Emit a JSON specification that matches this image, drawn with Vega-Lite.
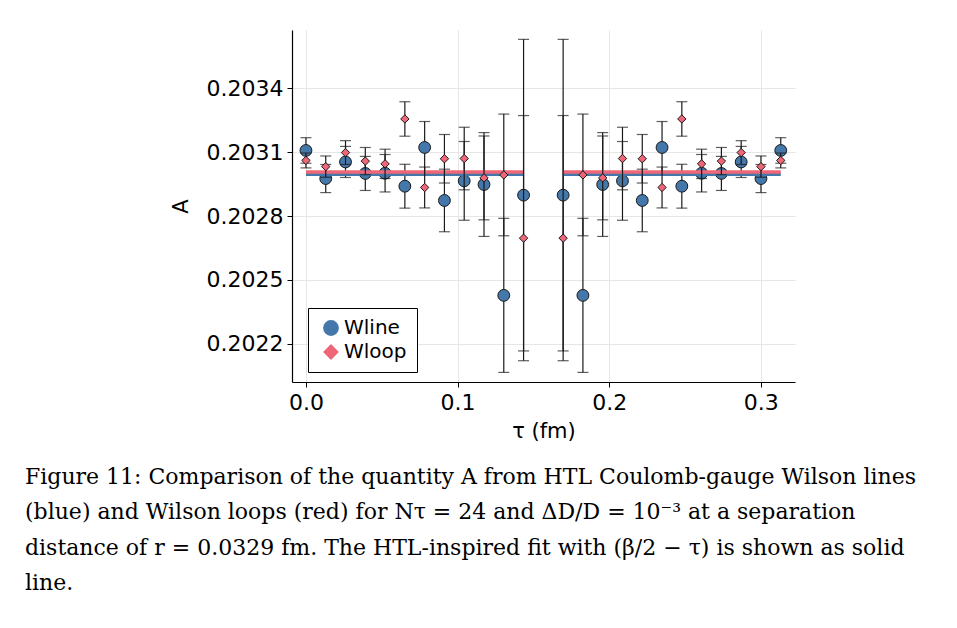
{
  "$schema": "https://vega.github.io/schema/vega-lite/v6.json",
  "autosize": {"type": "none"},
  "padding": {"left": 292, "top": 30, "right": 162, "bottom": 246},
  "width": 503,
  "height": 352,
  "background": "white",
  "config": {
    "view": {"stroke": null},
    "font": "DejaVu Sans",
    "axis": {
      "domainColor": "black", "domainWidth": 1.2,
      "gridColor": "#e6e6e6", "gridWidth": 1,
      "tickColor": "black", "tickSize": 5,
      "labelFont": "DejaVu Sans", "labelFontSize": 22, "labelColor": "black",
      "titleFont": "DejaVu Sans", "titleFontSize": 21, "titleFontWeight": "normal", "titleColor": "black"
    },
    "legend": {
      "orient": "none", "legendX": 16, "legendY": 278,
      "strokeColor": "black", "fillColor": "white", "padding": 10, "cornerRadius": 0,
      "labelFont": "DejaVu Sans", "labelFontSize": 20, "labelColor": "black",
      "symbolSize": 250, "symbolStrokeColor": "#222", "symbolStrokeWidth": 1, "rowPadding": 4, "symbolOpacity": 1,
      "symbolOffset": 3, "labelOffset": 3
    }
  },
  "title": {
    "text": [
      "Figure 11: Comparison of the quantity A from HTL Coulomb-gauge Wilson lines",
      "(blue) and Wilson loops (red) for Nτ = 24 and ΔD/D = 10⁻³ at a separation",
      "distance of r = 0.0329 fm. The HTL-inspired fit with (β/2 − τ) is shown as solid",
      "line."
    ],
    "orient": "bottom", "anchor": "start", "frame": "group",
    "dx": -267, "offset": 26,
    "font": "DejaVu Serif", "fontSize": 22, "fontWeight": "normal",
    "lineHeight": 35.3, "color": "black", "baseline": "top"
  },
  "datasets": {
    "pts": [
      {"tau": 0, "series": "Wline", "A": 0.203108, "lo": 0.203048, "hi": 0.203168},
      {"tau": 0.01305, "series": "Wline", "A": 0.202976, "lo": 0.20291, "hi": 0.203042},
      {"tau": 0.0261, "series": "Wline", "A": 0.203054, "lo": 0.202981, "hi": 0.203127},
      {"tau": 0.03915, "series": "Wline", "A": 0.203, "lo": 0.20292, "hi": 0.20308},
      {"tau": 0.0522, "series": "Wline", "A": 0.203001, "lo": 0.202913, "hi": 0.203089},
      {"tau": 0.06525, "series": "Wline", "A": 0.20294, "lo": 0.202837, "hi": 0.203043},
      {"tau": 0.0783, "series": "Wline", "A": 0.203122, "lo": 0.203, "hi": 0.203244},
      {"tau": 0.09135, "series": "Wline", "A": 0.202873, "lo": 0.202726, "hi": 0.20302},
      {"tau": 0.1044, "series": "Wline", "A": 0.202965, "lo": 0.20278, "hi": 0.20315},
      {"tau": 0.11745, "series": "Wline", "A": 0.202948, "lo": 0.202704, "hi": 0.203192},
      {"tau": 0.1305, "series": "Wline", "A": 0.202427, "lo": 0.202065, "hi": 0.202789},
      {"tau": 0.14355, "series": "Wline", "A": 0.202898, "lo": 0.202166, "hi": 0.20363},
      {"tau": 0.16965, "series": "Wline", "A": 0.202898, "lo": 0.202166, "hi": 0.20363},
      {"tau": 0.1827, "series": "Wline", "A": 0.202427, "lo": 0.202065, "hi": 0.202789},
      {"tau": 0.19575, "series": "Wline", "A": 0.202948, "lo": 0.202704, "hi": 0.203192},
      {"tau": 0.2088, "series": "Wline", "A": 0.202965, "lo": 0.20278, "hi": 0.20315},
      {"tau": 0.22185, "series": "Wline", "A": 0.202873, "lo": 0.202726, "hi": 0.20302},
      {"tau": 0.2349, "series": "Wline", "A": 0.203122, "lo": 0.203, "hi": 0.203244},
      {"tau": 0.24795, "series": "Wline", "A": 0.20294, "lo": 0.202837, "hi": 0.203043},
      {"tau": 0.261, "series": "Wline", "A": 0.203001, "lo": 0.202913, "hi": 0.203089},
      {"tau": 0.27405, "series": "Wline", "A": 0.203, "lo": 0.20292, "hi": 0.20308},
      {"tau": 0.2871, "series": "Wline", "A": 0.203054, "lo": 0.202981, "hi": 0.203127},
      {"tau": 0.30015, "series": "Wline", "A": 0.202976, "lo": 0.20291, "hi": 0.203042},
      {"tau": 0.3132, "series": "Wline", "A": 0.203108, "lo": 0.203048, "hi": 0.203168},
      {"tau": 0, "series": "Wloop", "A": 0.203061, "lo": 0.203026, "hi": 0.203096},
      {"tau": 0.01305, "series": "Wloop", "A": 0.203032, "lo": 0.202982, "hi": 0.203082},
      {"tau": 0.0261, "series": "Wloop", "A": 0.203098, "lo": 0.203042, "hi": 0.203154},
      {"tau": 0.03915, "series": "Wloop", "A": 0.203058, "lo": 0.202994, "hi": 0.203122},
      {"tau": 0.0522, "series": "Wloop", "A": 0.203045, "lo": 0.202976, "hi": 0.203114},
      {"tau": 0.06525, "series": "Wloop", "A": 0.203256, "lo": 0.203175, "hi": 0.203337},
      {"tau": 0.0783, "series": "Wloop", "A": 0.202934, "lo": 0.202838, "hi": 0.20303},
      {"tau": 0.09135, "series": "Wloop", "A": 0.203069, "lo": 0.202955, "hi": 0.203183},
      {"tau": 0.1044, "series": "Wloop", "A": 0.20307, "lo": 0.202923, "hi": 0.203217},
      {"tau": 0.11745, "series": "Wloop", "A": 0.202979, "lo": 0.202782, "hi": 0.203176},
      {"tau": 0.1305, "series": "Wloop", "A": 0.202993, "lo": 0.202707, "hi": 0.203279},
      {"tau": 0.14355, "series": "Wloop", "A": 0.202696, "lo": 0.20212, "hi": 0.203272},
      {"tau": 0.16965, "series": "Wloop", "A": 0.202696, "lo": 0.20212, "hi": 0.203272},
      {"tau": 0.1827, "series": "Wloop", "A": 0.202993, "lo": 0.202707, "hi": 0.203279},
      {"tau": 0.19575, "series": "Wloop", "A": 0.202979, "lo": 0.202782, "hi": 0.203176},
      {"tau": 0.2088, "series": "Wloop", "A": 0.20307, "lo": 0.202923, "hi": 0.203217},
      {"tau": 0.22185, "series": "Wloop", "A": 0.203069, "lo": 0.202955, "hi": 0.203183},
      {"tau": 0.2349, "series": "Wloop", "A": 0.202934, "lo": 0.202838, "hi": 0.20303},
      {"tau": 0.24795, "series": "Wloop", "A": 0.203256, "lo": 0.203175, "hi": 0.203337},
      {"tau": 0.261, "series": "Wloop", "A": 0.203045, "lo": 0.202976, "hi": 0.203114},
      {"tau": 0.27405, "series": "Wloop", "A": 0.203058, "lo": 0.202994, "hi": 0.203122},
      {"tau": 0.2871, "series": "Wloop", "A": 0.203098, "lo": 0.203042, "hi": 0.203154},
      {"tau": 0.30015, "series": "Wloop", "A": 0.203032, "lo": 0.202982, "hi": 0.203082},
      {"tau": 0.3132, "series": "Wloop", "A": 0.203061, "lo": 0.203026, "hi": 0.203096}
    ],
    "fit": [
      {"fit": "Wline", "seg": "L", "tau": 0, "A": 0.202996},
      {"fit": "Wline", "seg": "L", "tau": 0.14355, "A": 0.202996},
      {"fit": "Wline", "seg": "R", "tau": 0.16965, "A": 0.202996},
      {"fit": "Wline", "seg": "R", "tau": 0.3132, "A": 0.202996},
      {"fit": "Wloop", "seg": "L", "tau": 0, "A": 0.203007},
      {"fit": "Wloop", "seg": "L", "tau": 0.14355, "A": 0.203007},
      {"fit": "Wloop", "seg": "R", "tau": 0.16965, "A": 0.203007},
      {"fit": "Wloop", "seg": "R", "tau": 0.3132, "A": 0.203007}
    ]
  },
  "encoding": {
    "x": {
      "field": "tau", "type": "quantitative",
      "scale": {"domain": [-0.0092, 0.3226], "nice": false, "zero": false},
      "axis": {"title": "τ (fm)", "values": [0, 0.1, 0.2, 0.3], "format": ".1f", "titlePadding": 7, "labelPadding": 5}
    },
    "y": {
      "field": "A", "type": "quantitative",
      "scale": {"domain": [0.20202, 0.203674], "nice": false, "zero": false},
      "axis": {"title": "A", "values": [0.2022, 0.2025, 0.2028, 0.2031, 0.2034], "format": ".4f", "titlePadding": 15, "labelPadding": 4}
    }
  },
  "layer": [
    {
      "data": {"name": "pts"},
      "transform": [{"filter": "datum.series == 'Wline'"}],
      "mark": {"type": "rule", "color": "#1a1a1a", "strokeWidth": 1.2},
      "encoding": {"y": {"field": "lo", "type": "quantitative"}, "y2": {"field": "hi"}}
    },
    {
      "data": {"name": "pts"},
      "transform": [{"filter": "datum.series == 'Wline'"}],
      "mark": {"type": "tick", "orient": "horizontal", "size": 11, "thickness": 1.2, "color": "#1a1a1a"},
      "encoding": {"y": {"field": "lo", "type": "quantitative"}}
    },
    {
      "data": {"name": "pts"},
      "transform": [{"filter": "datum.series == 'Wline'"}],
      "mark": {"type": "tick", "orient": "horizontal", "size": 11, "thickness": 1.2, "color": "#1a1a1a"},
      "encoding": {"y": {"field": "hi", "type": "quantitative"}}
    },
    {
      "data": {"name": "pts"},
      "transform": [{"filter": "datum.series == 'Wline'"}],
      "mark": {"type": "point", "filled": true, "size": 140, "opacity": 1, "stroke": "#1a1a1a", "strokeWidth": 1},
      "encoding": {
        "color": {"field": "series", "type": "nominal", "scale": {"domain": ["Wline", "Wloop"], "range": ["#4477AA", "#EE6677"]}, "title": null},
        "shape": {"field": "series", "type": "nominal", "scale": {"domain": ["Wline", "Wloop"], "range": ["circle", "diamond"]}, "title": null}
      }
    },
    {
      "data": {"name": "fit"},
      "transform": [{"filter": "datum.fit == 'Wline'"}],
      "mark": {"type": "line", "color": "#4477AA", "strokeWidth": 3.5},
      "encoding": {"detail": {"field": "seg"}}
    },
    {
      "data": {"name": "fit"},
      "transform": [{"filter": "datum.fit == 'Wloop'"}],
      "mark": {"type": "line", "color": "#EE6677", "strokeWidth": 3.5},
      "encoding": {"detail": {"field": "seg"}}
    },
    {
      "data": {"name": "pts"},
      "transform": [{"filter": "datum.series == 'Wloop'"}],
      "mark": {"type": "rule", "color": "#1a1a1a", "strokeWidth": 1.2},
      "encoding": {"y": {"field": "lo", "type": "quantitative"}, "y2": {"field": "hi"}}
    },
    {
      "data": {"name": "pts"},
      "transform": [{"filter": "datum.series == 'Wloop'"}],
      "mark": {"type": "tick", "orient": "horizontal", "size": 11, "thickness": 1.2, "color": "#1a1a1a"},
      "encoding": {"y": {"field": "lo", "type": "quantitative"}}
    },
    {
      "data": {"name": "pts"},
      "transform": [{"filter": "datum.series == 'Wloop'"}],
      "mark": {"type": "tick", "orient": "horizontal", "size": 11, "thickness": 1.2, "color": "#1a1a1a"},
      "encoding": {"y": {"field": "hi", "type": "quantitative"}}
    },
    {
      "data": {"name": "pts"},
      "transform": [{"filter": "datum.series == 'Wloop'"}],
      "mark": {"type": "point", "filled": true, "size": 70, "opacity": 1, "stroke": "#1a1a1a", "strokeWidth": 1},
      "encoding": {
        "color": {"field": "series", "type": "nominal", "title": null},
        "shape": {"field": "series", "type": "nominal", "title": null}
      }
    }
  ]
}
